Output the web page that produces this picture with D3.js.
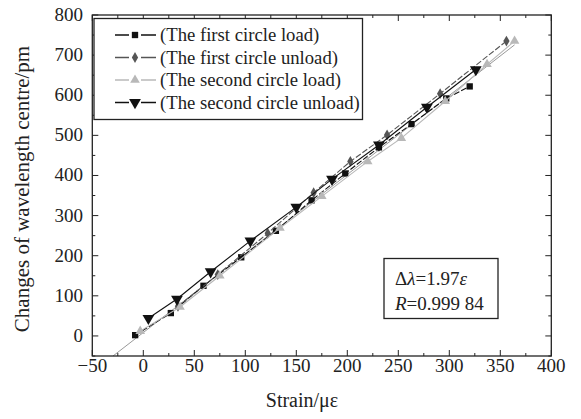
<!DOCTYPE html>
<html><head><meta charset="utf-8">
<script src="https://cdn.jsdelivr.net/npm/d3@7"></script>
<style>body{margin:0;background:#fff}svg{display:block}text{font-family:"Liberation Serif","Times New Roman",serif;fill:#222}</style>
</head><body><svg id="c" width="581" height="419"></svg>
<script>
const xTicks = [-50,0,50,100,150,200,250,300,350,400];
const yTicks = [0,100,200,300,400,500,600,700,800];
const seriesNames = ["(The first circle load)","(The first circle unload)","(The second circle load)","(The second circle unload)"];
const firstLoadX = [-8,27,59,96,130,165,198,231,263,297,320];
const firstLoadY = [2,57,125,196,262,338,405,470,528,592,622];
const firstUnloadX = [34,73,122,167,203,239,291,356];
const firstUnloadY = [74,153,256,357,435,501,604,735];
const secondLoadX = [-3,36,75,134,175,220,253,296,337,364];
const secondLoadY = [12,72,150,269,348,435,493,585,677,735];
const secondUnloadX = [5,33,66,105,150,185,231,278,326];
const secondUnloadY = [44,92,160,237,321,391,476,570,664];
const fitSlope = 1.97, fitIntercept = 8.5, fitRange = [-29.7,364];

const svg = d3.select("#c");
const L=92.3,R=551.3,T=15,B=356;
const x = d3.scaleLinear().domain([-50,400]).range([L,R]);
const y = d3.scaleLinear().domain([-50,800]).range([B,T]);

const series = [
  {name:seriesNames[0], xs:firstLoadX, ys:firstLoadY, color:"#111", dash:"6,2", shape:d3.symbolSquare, size:40, rot:0},
  {name:seriesNames[1], xs:firstUnloadX, ys:firstUnloadY, color:"#555", dash:"6,2", shape:d3.symbolDiamond, size:34, rot:0},
  {name:seriesNames[2], xs:secondLoadX, ys:secondLoadY, color:"#b8b8b8", dash:null, shape:d3.symbolTriangle, size:40, rot:0},
  {name:seriesNames[3], xs:secondUnloadX, ys:secondUnloadY, color:"#111", dash:null, shape:d3.symbolTriangle, size:60, rot:180}
];

const g = svg.append("g").attr("stroke","#222").attr("stroke-width",1);
const xMinor = d3.range(-50,401,25), yMinor = d3.range(-50,801,50);
xMinor.forEach(v=>{const len = v%50===0?6:3;
  g.append("line").attr("x1",x(v)).attr("x2",x(v)).attr("y1",B).attr("y2",B-len);
  g.append("line").attr("x1",x(v)).attr("x2",x(v)).attr("y1",T).attr("y2",T+len);});
yMinor.forEach(v=>{const len = v%100===0?6:3;
  g.append("line").attr("y1",y(v)).attr("y2",y(v)).attr("x1",L).attr("x2",L+len);
  g.append("line").attr("y1",y(v)).attr("y2",y(v)).attr("x1",R).attr("x2",R-len);});

svg.append("line").attr("x1",x(fitRange[0])).attr("y1",y(fitSlope*fitRange[0]+fitIntercept))
  .attr("x2",x(fitRange[1])).attr("y2",y(fitSlope*fitRange[1]+fitIntercept))
  .attr("stroke","#999").attr("stroke-width",1);

const line = d3.line().x(d=>x(d[0])).y(d=>y(d[1]));
series.forEach(s=>{
  const pts = s.xs.map((v,i)=>[v,s.ys[i]]);
  svg.append("path").attr("d",line(pts)).attr("fill","none").attr("stroke",s.color)
    .attr("stroke-width",1.1).attr("stroke-dasharray",s.dash);
  svg.selectAll(null).data(pts).enter().append("path")
    .attr("d",d3.symbol().type(s.shape).size(s.size))
    .attr("transform",d=>`translate(${x(d[0])},${y(d[1])}) rotate(${s.rot})`)
    .attr("fill",s.color);
});

svg.append("rect").attr("x",L).attr("y",T).attr("width",R-L).attr("height",B-T)
  .attr("fill","none").attr("stroke","#222").attr("stroke-width",1.3);

xTicks.forEach(v=>svg.append("text").attr("x",x(v)).attr("y",372).attr("text-anchor","middle")
  .attr("font-size",19).text(v<0?"\u2212"+(-v):v));
yTicks.forEach(v=>svg.append("text").attr("x",83).attr("y",y(v)+6).attr("text-anchor","end")
  .attr("font-size",19).text(v));

svg.append("text").attr("x",302).attr("y",407).attr("text-anchor","middle").attr("font-size",20).text("Strain/\u03bc\u03b5");
svg.append("text").attr("transform","translate(29,189) rotate(-90)").attr("text-anchor","middle")
  .attr("font-size",21).text("Changes of wavelength centre/pm");

svg.append("rect").attr("x",94).attr("y",18.5).attr("width",268.5).attr("height",101)
  .attr("fill","#fff").attr("stroke","#222").attr("stroke-width",1.3);
series.forEach((s,i)=>{
  const cy = 35+i*22.5;
  svg.append("line").attr("x1",115).attr("x2",129).attr("y1",cy).attr("y2",cy).attr("stroke",s.color).attr("stroke-width",1.5);
  svg.append("line").attr("x1",141).attr("x2",156).attr("y1",cy).attr("y2",cy).attr("stroke",s.color).attr("stroke-width",1.5);
  svg.append("path").attr("d",d3.symbol().type(s.shape).size(s.size))
    .attr("transform",`translate(135,${cy}) rotate(${s.rot})`).attr("fill",s.color);
  svg.append("text").attr("x",160).attr("y",cy+6).attr("font-size",18.7).text(s.name);
});

svg.append("rect").attr("x",384).attr("y",258.5).attr("width",114).attr("height",60)
  .attr("fill","#fff").attr("stroke","#222").attr("stroke-width",1.3);
const t1 = svg.append("text").attr("x",395).attr("y",285).attr("font-size",19);
t1.append("tspan").text("\u0394");
t1.append("tspan").attr("font-style","italic").text("\u03bb");
t1.append("tspan").text("=1.97");
t1.append("tspan").attr("font-style","italic").text("\u03b5");
const t2 = svg.append("text").attr("x",395).attr("y",310).attr("font-size",19);
t2.append("tspan").attr("font-style","italic").text("R");
t2.append("tspan").text("=0.999 84");
</script></body></html>
